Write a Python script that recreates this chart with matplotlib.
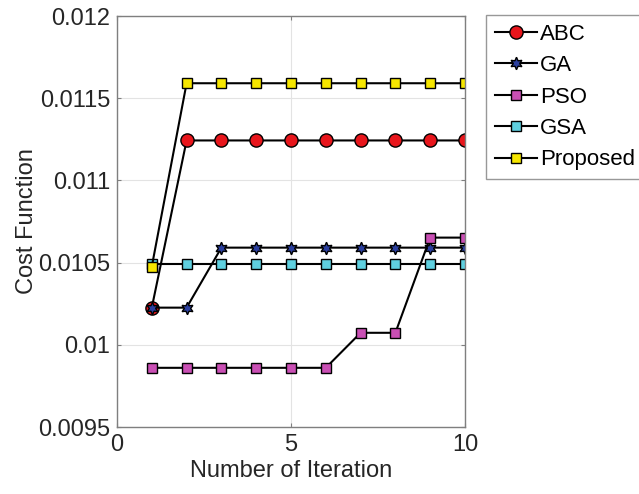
import matplotlib
matplotlib.use("Agg")
import matplotlib.pyplot as plt

plt.rcParams['font.family'] = ['Liberation Sans', 'DejaVu Sans']

iterations = [1, 2, 3, 4, 5, 6, 7, 8, 9, 10]
abc = [0.010226, 0.011243, 0.011243, 0.011243, 0.011243, 0.011243, 0.011243, 0.011243, 0.011243, 0.011243]
ga = [0.010226, 0.010226, 0.010591, 0.010591, 0.010591, 0.010591, 0.010591, 0.010591, 0.010591, 0.010591]
pso = [0.009860, 0.009860, 0.009860, 0.009860, 0.009860, 0.009860, 0.010073, 0.010073, 0.010652, 0.010652]
gsa = [0.010490, 0.010490, 0.010490, 0.010490, 0.010490, 0.010490, 0.010490, 0.010490, 0.010490, 0.010490]
proposed = [0.010476, 0.011591, 0.011591, 0.011591, 0.011591, 0.011591, 0.011591, 0.011591, 0.011591, 0.011591]

series = [
    ("ABC", abc, "o", "#e8161c", 9.5),
    ("GA", ga, (6, 1, 0), "#2b3f9e", 9),
    ("PSO", pso, "s", "#c94fb4", 7.5),
    ("GSA", gsa, "s", "#5fd0e0", 7.5),
    ("Proposed", proposed, "s", "#f6e600", 7.5),
]

fig = plt.figure(figsize=(6.39, 4.94), dpi=100)
ax = fig.add_axes([117 / 639, 1 - 427 / 494, (465 - 117) / 639, (427 - 16) / 494])

for name, vals, mk, col, ms in series:
    ax.plot(iterations, vals, color="black", linewidth=1.5, marker=mk,
            markerfacecolor=col, markeredgecolor="black", markeredgewidth=1.0,
            markersize=ms, label=name)

ax.set_xlim(0, 10)
ax.set_ylim(0.0095, 0.012)
ax.set_xticks([0, 5, 10])
ax.set_yticks([0.0095, 0.01, 0.0105, 0.011, 0.0115, 0.012])
ax.set_yticklabels(["0.0095", "0.01", "0.0105", "0.011", "0.0115", "0.012"])
ax.grid(True, color="#e3e3e3", linewidth=0.8)
ax.set_axisbelow(True)
for s in ax.spines.values():
    s.set_color("#7f7f7f")
    s.set_linewidth(1.0)
ax.tick_params(direction="in", length=3, color="#7f7f7f", labelsize=17,
               labelcolor="#262626", top=True, right=True, pad=5)
ax.set_xlabel("Number of Iteration", fontsize=17, color="#262626", labelpad=3)
ax.set_ylabel("Cost Function", fontsize=17, color="#262626", labelpad=0)

leg = ax.legend(loc="upper left", bbox_to_anchor=(1.06, 1.003), fontsize=16,
                frameon=True, fancybox=False, edgecolor="#7f7f7f",
                handlelength=1.9, handletextpad=0.12, borderpad=0.4,
                labelspacing=0.47, borderaxespad=0.0)
leg.get_frame().set_linewidth(1.0)

fig.savefig("out.png", dpi=100, facecolor="white")
